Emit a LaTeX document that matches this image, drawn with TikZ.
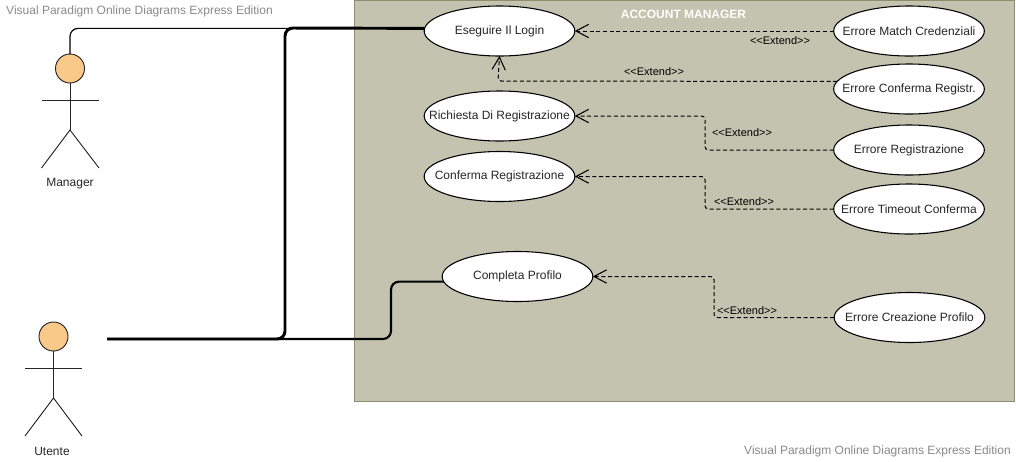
\documentclass[tikz,border=0pt]{standalone}
\usepackage{fontspec}
\setmainfont{Liberation Sans}
\usetikzlibrary{shapes.geometric,arrows.meta}
\definecolor{boxfill}{HTML}{C3C3AF}
\definecolor{boxline}{HTML}{8E8E6E}
\definecolor{headfill}{HTML}{F9C98A}
\definecolor{markgrey}{HTML}{8A8A8A}
\newcommand{\casetext}[1]{\makebox[0pt]{#1}}
\tikzset{
	usecase/.style={ellipse, draw=black, fill=white, line width=0.8pt, inner sep=0pt, outer sep=0pt, minimum width=113pt, minimum height=37.5pt, font=\fontsize{9}{11}\selectfont, text=black!85},
	actorhead/.style={circle, draw=black!85, fill=headfill, line width=0.7pt, inner sep=0pt, outer sep=0pt, minimum size=21.75pt},
	actorline/.style={draw=black!85, line width=0.7pt},
	actorname/.style={font=\fontsize{9}{11}\selectfont, text=black!85},
	extendline/.style={draw=black, line width=0.75pt, dash pattern=on 3pt off 2pt, rounded corners=2.5pt, -{Straight Barb[length=9.5pt,width=10pt,line width=0.8pt]}},
	extendtext/.style={font=\fontsize{8.25}{10}\selectfont, text=black},
	watermark/.style={font=\fontsize{9}{11}\selectfont, text=markgrey}
}
\begin{document}
\begin{tikzpicture}[x=0.75pt, y=-0.75pt]
	\useasboundingbox (0,0) rectangle (1016,461);
	\fill[white] (0,0) rectangle (1016,461);
	\filldraw[fill=boxfill, draw=boxline, line width=0.75pt] (354.5,0.5) rectangle (1014,401);

	\node[watermark] (mark1) at (139.5,11) {Visual Paradigm Online Diagrams Express Edition};
	\node[watermark] (mark2) at (877.5,451) {Visual Paradigm Online Diagrams Express Edition};
	\node[font=\fontsize{9}{11}\selectfont\bfseries, text=white] (title) at (683.5,14) {ACCOUNT MANAGER};

	\node[usecase] (login) at (499.5,31) {\casetext{Eseguire Il Login}};
	\node[usecase] (richiesta) at (499.5,116) {\casetext{Richiesta Di Registrazione}};
	\node[usecase] (conferma) at (499.5,176.5) {\casetext{Conferma Registrazione}};
	\node[usecase] (completa) at (517.5,276.5) {\casetext{Completa Profilo}};

	\node[usecase] (errmatch) at (909,31) {\casetext{Errore Match Credenziali}};
	\node[usecase] (errconf) at (909,89) {\casetext{Errore Conferma Registr.}};
	\node[usecase] (errreg) at (909,150) {\casetext{Errore Registrazione}};
	\node[usecase] (errtime) at (909,209) {\casetext{Errore Timeout Conferma}};
	\node[usecase] (errprof) at (909.5,317.5) {\casetext{Errore Creazione Profilo}};

	% actors
	\node[actorhead] (manager) at (70,68.5) {};
	\coordinate (m1) at (70,130);
	\draw[actorline] (manager.south) -- (m1);
	\draw[actorline] (41.5,100) -- (99,100);
	\draw[actorline] (41.5,168) -- (m1) -- (99,168);
	\node[actorname] (managername) at (70,184) {Manager};

	\node[actorhead] (utente) at (53.5,336.5) {};
	\coordinate (u1) at (53.5,398);
	\draw[actorline] (utente.south) -- (u1);
	\draw[actorline] (25,368) -- (82,368);
	\draw[actorline] (25,436) -- (u1) -- (82,436);
	\node[actorname] (utentename) at (52,451) {Utente};

	% associations
	\coordinate (start) at (107,339);
	\coordinate (c1) at (285,339);
	\coordinate (c2) at (285,28);
	\coordinate (c3) at (391,310);
	\draw[line width=0.9pt, rounded corners=6pt] (manager.north) |- (login.178);
	\draw[line width=2.2pt, rounded corners=6pt] (start) -- (c1) -- (c2) -- (login.178);
	\draw[line width=1.6pt, rounded corners=6pt] (start) -| (c3) |- (completa.184);

	% extends
	\draw[extendline] (errmatch.west) -- (login.east);
	\coordinate (e1) at (498,81);
	\draw[extendline] (errconf.174) -- (e1) -- (login.south);
	\coordinate (e2) at (705,130);
	\draw[extendline] (errreg.west) -| (e2) |- (richiesta.east);
	\coordinate (e3) at (705,190);
	\draw[extendline] (errtime.west) -| (e3) |- (conferma.east);
	\coordinate (e4) at (714,300);
	\draw[extendline] (errprof.west) -| (e4) |- (completa.east);

	\node[extendtext] (x1) at (780,40.5) {<{}<Extend>{}>};
	\node[extendtext] (x2) at (654,71.5) {<{}<Extend>{}>};
	\node[extendtext] (x3) at (742,132.5) {<{}<Extend>{}>};
	\node[extendtext] (x4) at (744,201.5) {<{}<Extend>{}>};
	\node[extendtext] (x5) at (747,311) {<{}<Extend>{}>};
\end{tikzpicture}
\end{document}
